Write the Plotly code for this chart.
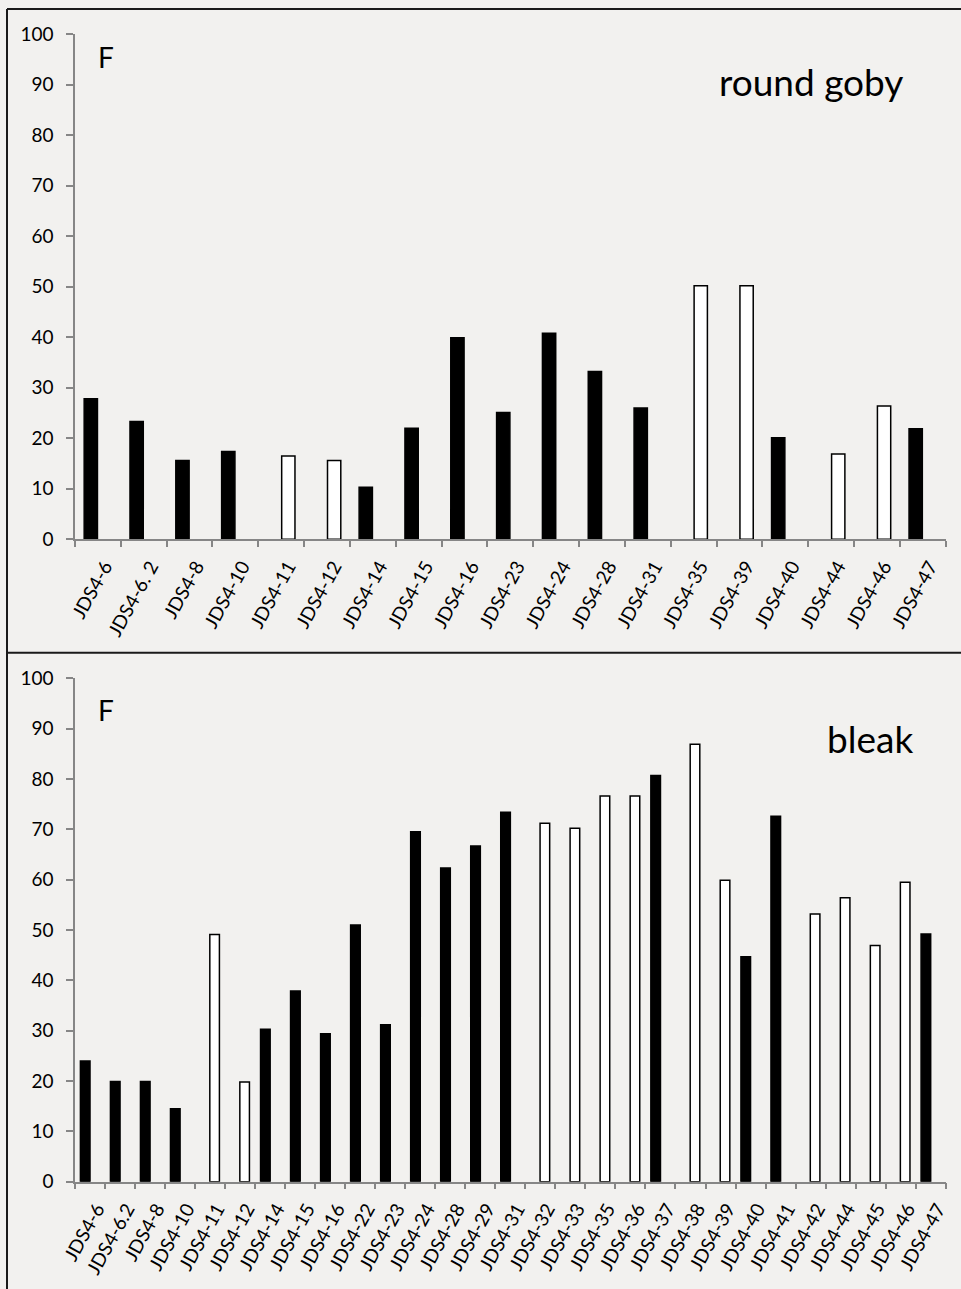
import plotly.graph_objects as go

# ---------------- data ----------------
goby_categories = ["JDS4-6", "JDS4-6. 2", "JDS4-8", "JDS4-10", "JDS4-11", "JDS4-12", "JDS4-14",
                   "JDS4-15", "JDS4-16", "JDS4-23", "JDS4-24", "JDS4-28", "JDS4-31", "JDS4-35",
                   "JDS4-39", "JDS4-40", "JDS4-44", "JDS4-46", "JDS4-47"]
goby_black = [27.8, 23.3, 15.6, 17.4, None, None, 10.3, 22.0, 39.9, 25.1, 40.8, 33.2, 26.0,
              None, None, 20.1, None, None, 21.9]
goby_white = [None, None, None, None, 16.5, 15.6, None, None, None, None, None, None, None,
              50.2, 50.2, None, 16.9, 26.4, None]

bleak_categories = ["JDS4-6", "JDS4-6.2", "JDS4-8", "JDS4-10", "JDS4-11", "JDS4-12", "JDS4-14",
                    "JDS4-15", "JDS4-16", "JDS4-22", "JDS4-23", "JDS4-24", "JDS4-28", "JDS4-29",
                    "JDS4-31", "JDS4-32", "JDS4-33", "JDS4-35", "JDS4-36", "JDS4-37", "JDS4-38",
                    "JDS4-39", "JDS4-40", "JDS4-41", "JDS4-42", "JDS4-44", "JDS4-45", "JDS4-46",
                    "JDS4-47"]
bleak_black = [24.0, 19.9, 19.9, 14.5, None, None, 30.3, 37.9, 29.4, 51.0, 31.2, 69.5, 62.3, 66.7,
               73.4, None, None, None, None, 80.7, None, None, 44.7, 72.6, None, None, None, None,
               49.2]
bleak_white = [None, None, None, None, 49.1, 19.8, None, None, None, None, None, None, None, None,
               None, 71.2, 70.2, 76.6, 76.6, None, 86.9, 59.9, None, None, 53.2, 56.4, 46.9, 59.5,
               None]

y_ticks = [0, 10, 20, 30, 40, 50, 60, 70, 80, 90, 100]

# ---------------- figure ----------------
W, H = 961, 1289
BG = "#F2F1EF"
AXIS = "#868686"
FONT = "Lato, 'Open Sans', sans-serif"

def px(x):
    return x / W

def py(y):
    return 1 - y / H

fig = go.Figure()

# top panel (round goby)
fig.add_trace(go.Bar(x=goby_categories, y=goby_black, xaxis="x", yaxis="y",
                     marker=dict(color="black", line=dict(color="black", width=1.5)),
                     width=0.29, offset=-0.30, showlegend=False))
fig.add_trace(go.Bar(x=goby_categories, y=goby_white, xaxis="x", yaxis="y",
                     marker=dict(color="white", line=dict(color="black", width=1.5)),
                     width=0.29, offset=0.01, showlegend=False))
# bottom panel (bleak)
fig.add_trace(go.Bar(x=bleak_categories, y=bleak_black, xaxis="x2", yaxis="y2",
                     marker=dict(color="black", line=dict(color="black", width=1.5)),
                     width=0.32, offset=-0.32, showlegend=False))
fig.add_trace(go.Bar(x=bleak_categories, y=bleak_white, xaxis="x2", yaxis="y2",
                     marker=dict(color="white", line=dict(color="black", width=1.5)),
                     width=0.32, offset=-0.01, showlegend=False))

xcommon = dict(type="category", showline=True, linecolor=AXIS, linewidth=1.5,
               ticks="outside", ticklen=6, tickcolor=AXIS, tickwidth=1.5,
               tickson="boundaries", tickangle=-61, showgrid=False, zeroline=False,
               automargin=False, ticklabelstandoff=7, ticklabelshift=7,
               tickfont=dict(family=FONT, size=19, color="black"))
ycommon = dict(range=[0, 100], tickvals=y_ticks, showline=True, linecolor=AXIS, linewidth=1.5,
               ticks="outside", ticklen=7, tickcolor=AXIS, tickwidth=1.5, showgrid=False,
               zeroline=False, ticklabelstandoff=9, automargin=False,
               tickfont=dict(family=FONT, size=19, color="black"))

x_dom = [px(75), px(945.7)]
fig.update_layout(
    width=W, height=H, margin=dict(l=0, r=0, t=0, b=0, autoexpand=False),
    paper_bgcolor=BG, plot_bgcolor=BG, barmode="overlay",
    xaxis=dict(domain=x_dom, anchor="y", range=[-0.5, len(goby_categories) - 0.5], **xcommon),
    yaxis=dict(domain=[py(539.3), py(34)], anchor="x", **ycommon),
    xaxis2=dict(domain=x_dom, anchor="y2", range=[-0.5, len(bleak_categories) - 0.5], **xcommon),
    yaxis2=dict(domain=[py(1181.7), py(678.3)], anchor="x2", **ycommon),
)

# panel borders
border = dict(color="#1A1A1A", width=2)
fig.add_shape(type="line", xref="paper", yref="paper", x0=px(7), x1=1.02, y0=py(9), y1=py(9), line=border)
fig.add_shape(type="line", xref="paper", yref="paper", x0=px(7), x1=1.02, y0=py(652.7), y1=py(652.7), line=border)
fig.add_shape(type="line", xref="paper", yref="paper", x0=px(7), x1=px(7), y0=py(9), y1=-0.02, line=border)

# annotations
fig.add_annotation(text="F", xref="paper", yref="paper", x=px(106), y=py(57), showarrow=False,
                   xanchor="center", yanchor="middle", font=dict(family=FONT, size=28, color="black"))
fig.add_annotation(text="round goby", xref="paper", yref="paper", x=px(811), y=py(81), showarrow=False,
                   xanchor="center", yanchor="middle", font=dict(family=FONT, size=37, color="black"))
fig.add_annotation(text="F", xref="paper", yref="paper", x=px(106), y=py(710), showarrow=False,
                   xanchor="center", yanchor="middle", font=dict(family=FONT, size=28, color="black"))
fig.add_annotation(text="bleak", xref="paper", yref="paper", x=px(870), y=py(738), showarrow=False,
                   xanchor="center", yanchor="middle", font=dict(family=FONT, size=37, color="black"))

fig.write_html("out.html", config={"displayModeBar": False},
               post_script="document.body.style.margin='0';document.body.style.background='#F2F1EF';")
